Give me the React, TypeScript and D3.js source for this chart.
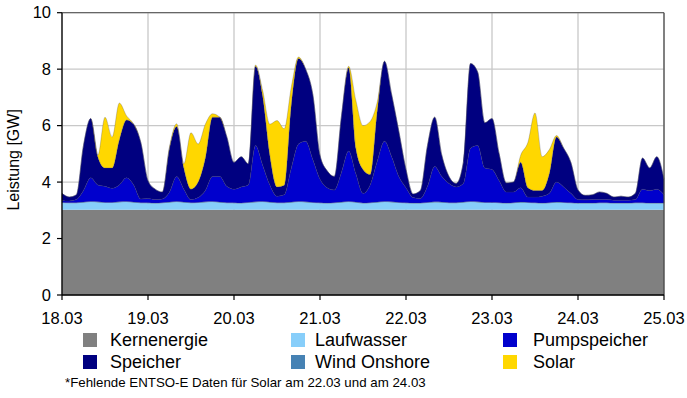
import React from "react";
import * as d3 from "d3";

const dayLabels = ["18.03", "19.03", "20.03", "21.03", "22.03", "23.03", "24.03", "25.03"];
const yTicks = [0, 2, 4, 6, 8, 10];
const seriesNames = ["Kernenergie", "Laufwasser", "Wind Onshore", "Pumpspeicher", "Speicher", "Solar"];
const seriesColors = ["#808080", "#87cefa", "#4682b4", "#0000cd", "#000080", "#ffd700"];

// 2-hourly samples, 18.03 00:00 .. 25.03 00:00 (85 points)
const hours = d3.range(0, 169, 2);

const kernenergie = [
  3.02, 3.02, 3.02, 3.02, 3.02, 3.02, 3.02, 3.02, 3.02, 3.02, 3.02, 3.02,
  3.02, 3.02, 3.02, 3.02, 3.02, 3.02, 3.02, 3.02, 3.02, 3.02, 3.02, 3.02,
  3.02, 3.02, 3.02, 3.02, 3.02, 3.02, 3.02, 3.02, 3.02, 3.02, 3.02, 3.02,
  3.02, 3.02, 3.02, 3.02, 3.02, 3.02, 3.02, 3.02, 3.02, 3.02, 3.02, 3.02,
  3.02, 3.02, 3.02, 3.02, 3.02, 3.02, 3.02, 3.02, 3.02, 3.02, 3.02, 3.02,
  3.02, 3.02, 3.02, 3.02, 3.02, 3.02, 3.02, 3.02, 3.02, 3.02, 3.02, 3.02,
  3.02, 3.02, 3.02, 3.02, 3.02, 3.02, 3.02, 3.02, 3.02, 3.02, 3.02, 3.02, 3.02,
];

const laufwasser = [
  0.24, 0.23, 0.23, 0.25, 0.27, 0.26, 0.24, 0.24, 0.26, 0.27, 0.25, 0.23,
  0.23, 0.22, 0.23, 0.25, 0.27, 0.25, 0.23, 0.24, 0.26, 0.27, 0.25, 0.23,
  0.23, 0.22, 0.24, 0.26, 0.27, 0.25, 0.23, 0.23, 0.25, 0.27, 0.26, 0.24,
  0.23, 0.22, 0.23, 0.25, 0.27, 0.25, 0.22, 0.23, 0.25, 0.27, 0.26, 0.24,
  0.23, 0.22, 0.22, 0.24, 0.26, 0.25, 0.23, 0.23, 0.25, 0.27, 0.26, 0.24,
  0.24, 0.23, 0.22, 0.23, 0.25, 0.24, 0.23, 0.22, 0.23, 0.25, 0.24, 0.23,
  0.22, 0.22, 0.22, 0.23, 0.23, 0.22, 0.22, 0.22, 0.23, 0.23, 0.22, 0.22, 0.22,
];

const windOnshore = [
  0.02, 0.02, 0.02, 0.02, 0.02, 0.02, 0.02, 0.02, 0.02, 0.02, 0.02, 0.02,
  0.02, 0.02, 0.02, 0.02, 0.02, 0.02, 0.02, 0.02, 0.02, 0.02, 0.02, 0.02,
  0.02, 0.02, 0.02, 0.02, 0.02, 0.02, 0.02, 0.02, 0.02, 0.02, 0.02, 0.02,
  0.02, 0.02, 0.02, 0.02, 0.02, 0.02, 0.02, 0.02, 0.02, 0.02, 0.02, 0.02,
  0.02, 0.02, 0.02, 0.02, 0.02, 0.02, 0.02, 0.02, 0.02, 0.02, 0.02, 0.02,
  0.02, 0.02, 0.02, 0.02, 0.02, 0.02, 0.02, 0.02, 0.02, 0.02, 0.02, 0.02,
  0.02, 0.02, 0.02, 0.02, 0.02, 0.02, 0.02, 0.02, 0.02, 0.02, 0.02, 0.02, 0.02,
];

const pumpspeicher = [
  0.07, 0.06, 0.11, 0.41, 0.84, 0.6, 0.57, 0.5, 0.6, 0.84, 0.61, 0.13,
  0.15, 0.12, 0.13, 0.36, 0.89, 0.46, 0.11, 0.17, 0.4, 0.89, 0.91, 0.58,
  0.48, 0.57, 0.62, 2.0, 1.29, 0.61, 0.23, 0.28, 1.21, 2.04, 2.15, 1.52,
  0.83, 0.54, 0.45, 1.06, 1.79, 1.01, 0.34, 0.63, 1.46, 2.14, 1.6, 0.92,
  0.53, 0.19, 0.16, 0.57, 1.25, 0.91, 0.68, 0.56, 0.66, 1.89, 2.0, 1.22,
  1.17, 0.78, 0.39, 0.38, 0.51, 0.19, 0.2, 0.24, 0.33, 0.71, 0.55, 0.33,
  0.12, 0.11, 0.12, 0.11, 0.11, 0.1, 0.1, 0.1, 0.11, 0.48, 0.44, 0.49, 0.29,
];

const speicher = [
  0.25, 0.14, 0.17, 1.6, 2.1, 1.0, 0.65, 0.72, 1.6, 2.05, 2.15, 2.0,
  0.63, 0.37, 0.25, 1.55, 1.77, 0.75, 0.37, 0.55, 1.15, 2.1, 2.1, 1.75,
  0.95, 1.07, 0.75, 2.8, 2.45, 1.05, 0.33, 0.34, 2.27, 3.03, 2.55, 2.3,
  0.85, 0.6, 0.48, 2.0, 2.95, 0.9, 0.85, 0.37, 1.8, 2.83, 2.2, 1.6,
  0.65, 0.13, 0.28, 1.45, 1.75, 0.75, 0.25, 0.12, 0.75, 3.0, 2.6, 1.6,
  1.8, 0.95, 0.32, 0.35, 0.9, 0.33, 0.23, 0.2, 0.7, 1.6, 1.37, 1.1,
  0.34, 0.16, 0.17, 0.27, 0.22, 0.11, 0.14, 0.11, 0.22, 1.1, 0.8, 1.15, 0.55,
];

const solar = [
  0, 0, 0, 0, 0, 0.05, 1.8, 1.1, 1.3, 0.15, 0, 0,
  0, 0, 0, 0.05, 0.1, 0.15, 2.0, 1.35, 1.2, 0.12, 0, 0,
  0, 0, 0, 0.05, 0.2, 1.1, 2.35, 2.0, 0.6, 0.05, 0, 0,
  0, 0, 0, 0, 0.05, 1.7, 1.55, 1.88, 0.3, 0, 0, 0,
  0, 0, 0, 0, 0, 0, 0, 0, 0, 0, 0, 0,
  0, 0, 0, 0, 0.25, 1.6, 2.75, 1.2, 0.85, 0.05, 0, 0,
  0, 0, 0, 0, 0, 0, 0, 0, 0, 0, 0, 0, 0,
];

const W = 687;
const H = 398;
const m = { left: 62, right: 664, top: 12.7, bottom: 295 };
const FONT = "'Liberation Sans', Arial, sans-serif";

export default function App() {
  const x = d3.scaleLinear().domain([0, 168]).range([m.left, m.right]);
  const y = d3.scaleLinear().domain([0, 10]).range([m.bottom, m.top]);

  const rows = hours.map((h, i) => ({
    h,
    Kernenergie: kernenergie[i],
    Laufwasser: laufwasser[i],
    "Wind Onshore": windOnshore[i],
    Pumpspeicher: pumpspeicher[i],
    Speicher: speicher[i],
    Solar: solar[i],
  }));
  const stacked = d3.stack<any>().keys(seriesNames)(rows);
  const area = d3
    .area<any>()
    .curve(d3.curveMonotoneX)
    .x((d) => x(d.data.h))
    .y0((d) => y(d[0]))
    .y1((d) => y(d[1]));

  const dayTicks = dayLabels.map((_, i) => i * 24);

  const legendCols = [83, 291, 503];
  const legendTextDx = [27, 24, 30];
  const legendRows = [340, 362];
  const legendOrder = [
    ["Kernenergie", "Laufwasser", "Pumpspeicher"],
    ["Speicher", "Wind Onshore", "Solar"],
  ];

  return (
    <svg
      width={W}
      height={H}
      style={{ position: "absolute", left: 0, top: 0, background: "#fff" }}
      fontFamily={FONT}
    >
      {yTicks.map((t) => (
        <line key={"gy" + t} x1={m.left} x2={m.right} y1={y(t)} y2={y(t)} stroke="#c8c8c8" strokeWidth={1.3} />
      ))}
      {dayTicks.map((t) => (
        <line key={"gx" + t} x1={x(t)} x2={x(t)} y1={m.top} y2={m.bottom} stroke="#c8c8c8" strokeWidth={1.3} />
      ))}
      {stacked.map((s, i) => (
        <path
          key={s.key}
          d={area(s) || ""}
          fill={seriesColors[i]}
          stroke={i >= 3 ? "rgba(60,60,90,0.5)" : "none"}
          strokeWidth={0.5}
        />
      ))}
      <line x1={m.left} x2={m.right} y1={m.top} y2={m.top} stroke="#666" strokeWidth={1.2} />
      <line x1={m.right} x2={m.right} y1={m.top} y2={m.bottom} stroke="#444" strokeWidth={1.2} />
      <line x1={m.left} x2={m.left} y1={m.top} y2={m.bottom} stroke="#000" strokeWidth={1.3} />
      <line x1={m.left} x2={m.right} y1={m.bottom} y2={m.bottom} stroke="#000" strokeWidth={1.3} />
      {yTicks.map((t) => (
        <g key={"yt" + t}>
          <line x1={m.left - 5} x2={m.left} y1={y(t)} y2={y(t)} stroke="#000" strokeWidth={1.2} />
          <text x={51} y={y(t)} dy="0.35em" textAnchor="end" fontSize={16.5} fill="#000">
            {t}
          </text>
        </g>
      ))}
      {dayTicks.map((t, i) => (
        <g key={"xt" + t}>
          <line x1={x(t)} x2={x(t)} y1={m.bottom} y2={m.bottom + 5} stroke="#000" strokeWidth={1.2} />
          <text x={x(t)} y={324} textAnchor="middle" fontSize={16.5} fill="#000">
            {dayLabels[i]}
          </text>
        </g>
      ))}
      <text
        transform={`translate(19,${(m.top + m.bottom) / 2 + 6}) rotate(-90)`}
        textAnchor="middle"
        fontSize={16}
        fill="#000"
      >
        Leistung [GW]
      </text>
      {legendOrder.map((row, r) =>
        row.map((name, c) => {
          const idx = seriesNames.indexOf(name);
          return (
            <g key={name}>
              <rect x={legendCols[c]} y={legendRows[r] - 7} width={14} height={14} fill={seriesColors[idx]} />
              <text x={legendCols[c] + legendTextDx[c]} y={legendRows[r]} dy="0.35em" fontSize={18} fill="#000">
                {name}
              </text>
            </g>
          );
        })
      )}
      <text x={65} y={382} dy="0.35em" fontSize={13.3} fill="#000">
        *Fehlende ENTSO-E Daten für Solar am 22.03 und am 24.03
      </text>
    </svg>
  );
}
